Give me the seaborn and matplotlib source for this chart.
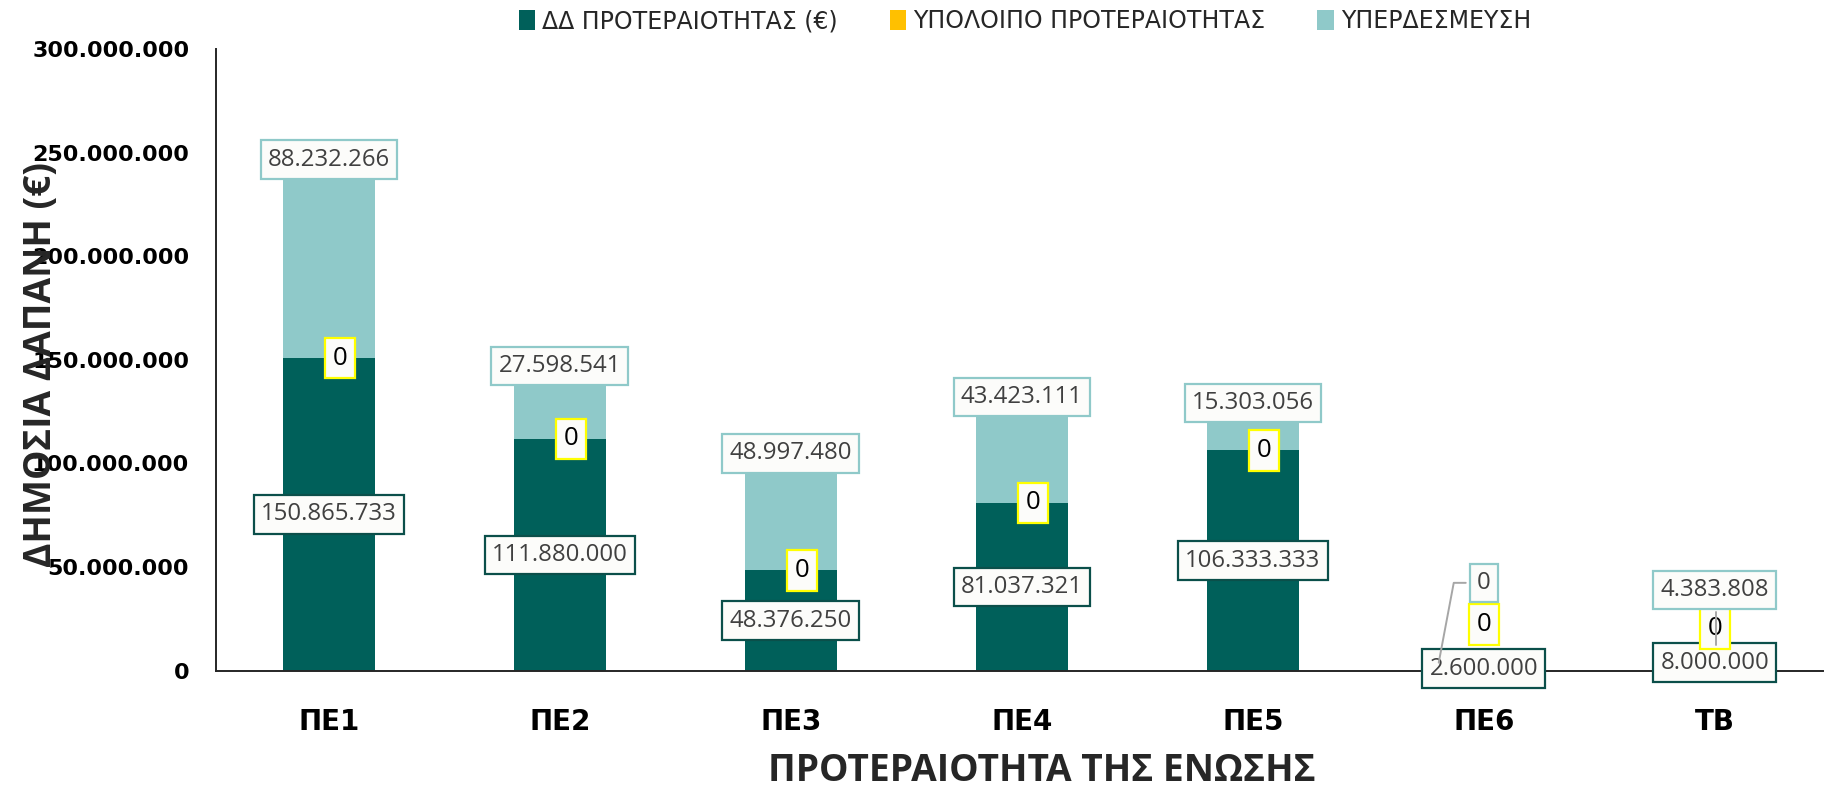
import numpy as np
import matplotlib
matplotlib.use("Agg")
import matplotlib.pyplot as plt
from matplotlib.ticker import FuncFormatter
import seaborn as sns

# data
categories = ["ΠΕ1", "ΠΕ2", "ΠΕ3", "ΠΕ4", "ΠΕ5", "ΠΕ6", "ΤΒ"]
dd = [150865733, 111880000, 48376250, 81037321, 106333333, 2600000, 8000000]
ypoloipo = [0, 0, 0, 0, 0, 0, 0]
yperdesmeusi = [88232266, 27598541, 48997480, 43423111, 15303056, 0, 4383808]

series_names = ["ΔΔ ΠΡΟΤΕΡΑΙΟΤΗΤΑΣ (€)", "ΥΠΟΛΟΙΠΟ ΠΡΟΤΕΡΑΙΟΤΗΤΑΣ", "ΥΠΕΡΔΕΣΜΕΥΣΗ"]
c_dark = "#00605A"
c_yellow = "#FFC000"
c_light = "#8FC9C9"

sns.set_theme(style="white")
plt.rcParams["font.family"] = ["DejaVu Sans"]

fig = plt.figure(figsize=(18.27, 7.9), dpi=100)
ax = fig.add_axes([0.118, 0.151, 0.880, 0.787])

dd = np.array(dd)
yp = np.array(ypoloipo)
yd = np.array(yperdesmeusi)
tot = dd + yp + yd

# stacked look: draw totals first, then overlay lower parts
bar_kw = dict(width=0.4, saturation=1, linewidth=0, edgecolor="none", ax=ax)
sns.barplot(x=categories, y=tot, color=c_light, label=series_names[2], **bar_kw)
sns.barplot(x=categories, y=dd + yp, color=c_yellow, label=series_names[1], **bar_kw)
sns.barplot(x=categories, y=dd, color=c_dark, label=series_names[0], **bar_kw)
if ax.get_legend() is not None:
    ax.get_legend().remove()

ax.set_ylim(0, 300e6)
ax.set_xlim(-0.49, 6.47)
ax.yaxis.set_major_formatter(FuncFormatter(lambda v, p: f"{int(v):,}".replace(",", ".")))
ax.set_yticks(np.arange(0, 300e6 + 1, 50e6))
ax.tick_params(axis="y", length=0, pad=19, labelsize=16)
ax.tick_params(axis="x", length=0, pad=27, labelsize=20)
for t in ax.get_yticklabels() + ax.get_xticklabels():
    t.set_fontweight("bold")
    t.set_color("black")

for s in ["top", "right"]:
    ax.spines[s].set_visible(False)
for s in ["left", "bottom"]:
    ax.spines[s].set_color("#262626")
    ax.spines[s].set_linewidth(1.4)

ax.set_xlabel("ΠΡΟΤΕΡΑΙΟΤΗΤΑ ΤΗΣ ΕΝΩΣΗΣ", fontsize=26.7, fontweight="bold",
              family=["Open Sans", "DejaVu Sans"])
ax.set_ylabel("ΔΗΜΟΣΙΑ ΔΑΠΑΝΗ (€)", fontsize=26.7, fontweight="bold",
              family=["Open Sans", "DejaVu Sans"])
ax.xaxis.set_label_coords(0.514, -0.131)
ax.yaxis.set_label_coords(-0.097, 0.493)


def fmt(v):
    return f"{int(v):,}".replace(",", ".")


def box(edge):
    return dict(boxstyle="square,pad=0.3", fc="#FCFCFA", ec=edge, lw=1.6)


lab_font = dict(family=["Open Sans", "DejaVu Sans"], fontsize=17.3)

# manually dragged labels on the small bars (centres in data units)
moved = {5: (1.0e6, 22.2e6, 42.4e6), 6: (3.9e6, 20.3e6, 39.0e6)}

for i in range(len(categories)):
    if i in moved:
        y_d, y_y, y_l = moved[i]
        dx = 0.0
    else:
        y_d, y_y, y_l = dd[i] / 2, dd[i] + yp[i] / 2, tot[i] + 7.5e6
        dx = 0.05
    ax.text(i, y_d, fmt(dd[i]), ha="center", va="center", color="#404040",
            bbox=box("#0B4F4A"), zorder=5, **lab_font)
    ax.text(i + dx, y_y, fmt(yp[i]), ha="center", va="center", color="black",
            bbox=box("#FFFF00"), zorder=5, family=["Open Sans", "DejaVu Sans"],
            fontsize=18.5)
    ax.text(i, y_l, fmt(yd[i]), ha="center", va="center", color="#404040",
            bbox=box(c_light), zorder=5, **lab_font)

# leader lines for the moved labels
ax.plot([5 - 0.078, 5 - 0.13, 5 - 0.195], [42.4e6, 42.4e6, 3.9e6],
        color="#A6A6A6", lw=1.4, zorder=6)
ax.plot([6.005, 6.005], [28.5e6, 12.5e6], color="#A6A6A6", lw=1.4, zorder=6)

h, l = ax.get_legend_handles_labels()
order = [l.index(n) for n in series_names]
fig.legend([h[k] for k in order], [l[k] for k in order], loc="center",
           bbox_to_anchor=(0.561, 0.973), ncol=3, frameon=False,
           handlelength=0.7, handleheight=0.9, handletextpad=0.3,
           columnspacing=2.2,
           prop=dict(family=["Liberation Sans Narrow", "DejaVu Sans"], size=17))

fig.savefig("out.png", dpi=100)
